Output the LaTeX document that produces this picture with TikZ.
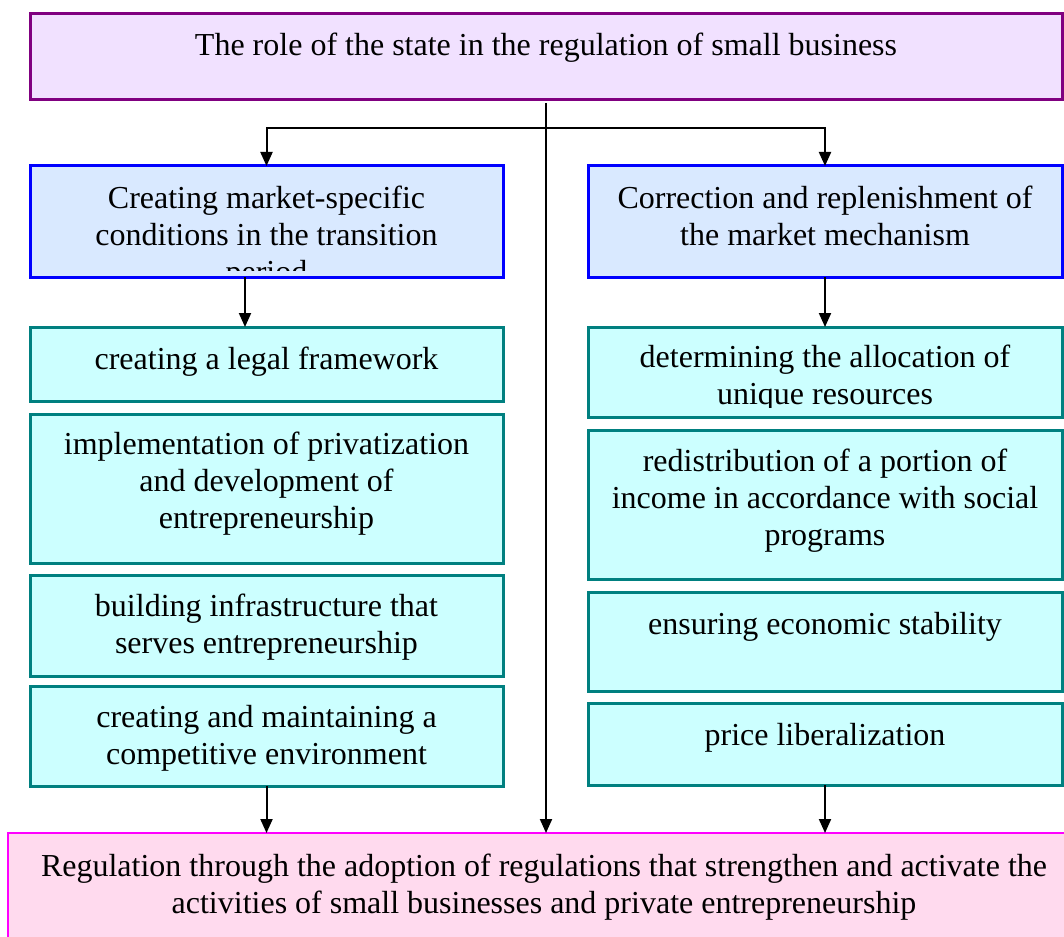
\documentclass[tikz,border=0pt]{standalone}
\usepackage{fontspec}
\setmainfont{Liberation Serif}
\usetikzlibrary{arrows.meta}

\definecolor{topfill}{HTML}{F1E1FF}
\definecolor{topdraw}{HTML}{800080}
\definecolor{bluefill}{HTML}{D9E9FF}
\definecolor{bluedraw}{HTML}{0000FF}
\definecolor{cyanfill}{HTML}{CCFFFF}
\definecolor{cyandraw}{HTML}{008080}
\definecolor{pinkfill}{HTML}{FFDAEE}
\definecolor{pinkdraw}{HTML}{FF00FF}

\begin{document}
\begin{tikzpicture}[x=1pt,y=-1pt,
  boxbase/.style={line width=3pt, anchor=north west, inner sep=0pt, outer sep=0pt},
  topbox/.style={boxbase, draw=topdraw, fill=topfill},
  bluebox/.style={boxbase, draw=bluedraw, fill=bluefill},
  cyanbox/.style={boxbase, draw=cyandraw, fill=cyanfill},
  pinkbox/.style={boxbase, line width=2.5pt, draw=pinkdraw, fill=pinkfill},
  txt/.style={anchor=north, align=center, inner sep=0pt,
    font=\fontsize{32}{37}\selectfont, execute at begin node=\strut},
  arr/.style={line width=2pt, -{Triangle[length=14pt,width=12pt]}}
]
\clip (0,0) rectangle (1064,936);

% boxes
\node[topbox,  minimum width=1032pt, minimum height=86pt]  (top)  at (30,14) {};
\node[bluebox, minimum width=473pt,  minimum height=111pt] (blueL) at (30,166) {};
\node[bluebox, minimum width=474pt,  minimum height=111pt] (blueR) at (588,166) {};
\node[cyanbox, minimum width=473pt,  minimum height=74pt]  (cL1) at (30,327) {};
\node[cyanbox, minimum width=473pt,  minimum height=149pt] (cL2) at (30,414) {};
\node[cyanbox, minimum width=473pt,  minimum height=101pt] (cL3) at (30,575) {};
\node[cyanbox, minimum width=473pt,  minimum height=100pt] (cL4) at (30,686) {};
\node[cyanbox, minimum width=474pt,  minimum height=90pt]  (cR1) at (588,327) {};
\node[cyanbox, minimum width=474pt,  minimum height=149pt] (cR2) at (588,430) {};
\node[cyanbox, minimum width=474pt,  minimum height=99pt]  (cR3) at (588,592) {};
\node[cyanbox, minimum width=474pt,  minimum height=82pt]  (cR4) at (588,703) {};
\node[pinkbox, minimum width=1076pt, minimum height=140pt] (bottom) at (8,833) {};

% texts
\node[txt] (tTop) at (546,29) {The role of the state in the regulation of small business};
\begin{scope}
  % the third line runs past the box and is cut off
  \clip (30,166) rectangle (503,270);
  \node[txt] (tBlueL) at (266.5,185.5) {Creating market-specific\\conditions in the transition\\period};
\end{scope}
\node[txt] (tBlueR) at (825,185.5) {Correction and replenishment of\\the market mechanism};
\node[txt] (tL1) at (266.5,343) {creating a legal framework};
\node[txt] (tL2) at (266.5,432) {implementation of privatization\\and development of\\entrepreneurship};
\node[txt] (tL3) at (266.5,594) {building infrastructure that\\serves entrepreneurship};
\node[txt] (tL4) at (266.5,705) {creating and maintaining a\\competitive environment};
\begin{scope}
  \clip (588,327) rectangle (1062,407);
  \node[txt] (tR1) at (825,345) {determining the allocation of\\unique resources};
\end{scope}
\node[txt] (tR2) at (825,449) {redistribution of a portion of\\income in accordance with social\\programs};
\node[txt] (tR3) at (825,608) {ensuring economic stability};
\node[txt] (tR4) at (825,719) {price liberalization};
\node[txt] (tBottom) at (544,854) {Regulation through the adoption of regulations that strengthen and activate the\\activities of small businesses and private entrepreneurship};

% connectors
\coordinate (split) at (546,128);
\draw[arr] ([yshift=-3pt]top.south) -- (bottom.north);
\draw[arr] (split) -| (blueL.north);
\draw[arr] (split) -| (blueR.north);
\draw[arr] ([xshift=-21.5pt]blueL.south) -- ([xshift=-21.5pt]cL1.north);
\draw[arr] (blueR.south) -- (cR1.north);
\draw[arr] (cL4.south) -- (cL4.south |- bottom.north);
\draw[arr] (cR4.south) -- (cR4.south |- bottom.north);
\end{tikzpicture}
\end{document}
